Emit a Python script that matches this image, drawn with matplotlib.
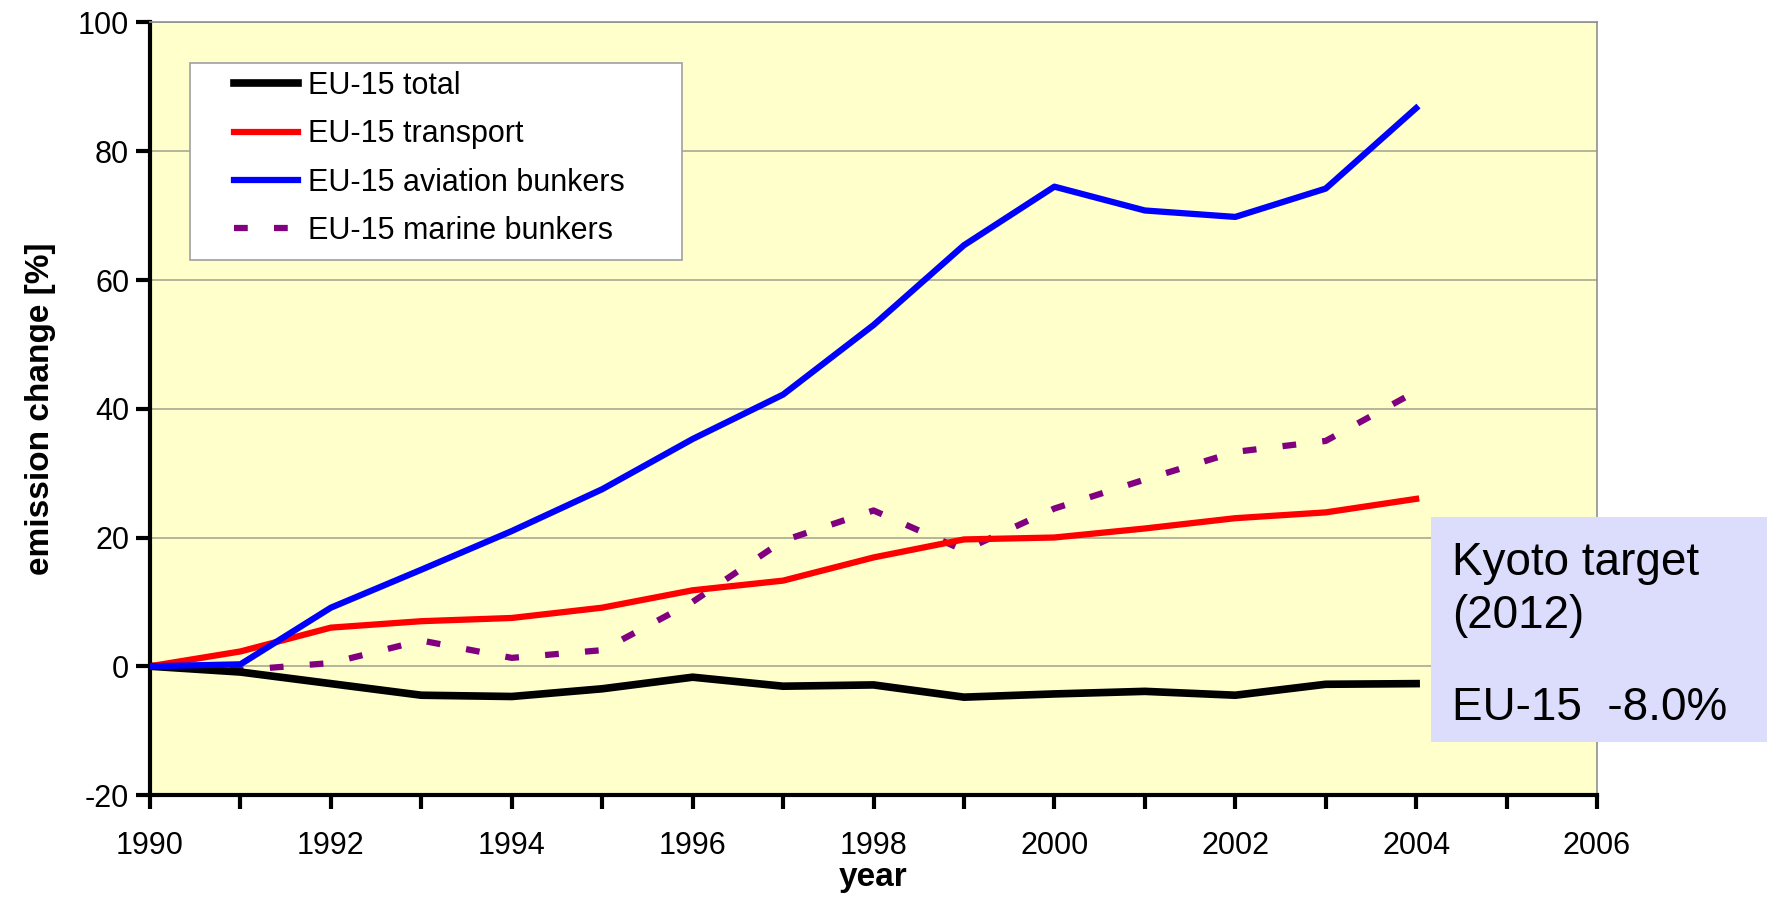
import matplotlib

matplotlib.use("Agg")
import matplotlib.pyplot as plt
from matplotlib.patches import Rectangle

plt.rcParams["font.family"] = ["Liberation Sans", "DejaVu Sans"]
plt.rcParams["axes.unicode_minus"] = False

# 数据：相对 1990 年的排放变化 (%)
years = [1990, 1991, 1992, 1993, 1994, 1995, 1996, 1997, 1998, 1999, 2000, 2001, 2002, 2003, 2004]
total = [0, -0.9, -2.7, -4.5, -4.7, -3.5, -1.7, -3.1, -2.9, -4.8, -4.3, -3.9, -4.5, -2.8, -2.7]
transport = [0, 2.3, 6.0, 7.0, 7.5, 9.1, 11.8, 13.3, 16.9, 19.7, 20.0, 21.4, 23.0, 23.9, 26.0]
aviation = [0, 0.3, 9.1, 15.0, 21.0, 27.5, 35.3, 42.2, 53.0, 65.4, 74.5, 70.8, 69.8, 74.2, 86.7]
marine = [0, -0.6, 0.5, 4.0, 1.3, 2.5, 10.0, 19.5, 24.2, 18.0, 24.5, 29.0, 33.3, 35.0, 42.7]

labels = ["EU-15 total", "EU-15 transport", "EU-15 aviation bunkers", "EU-15 marine bunkers"]
y_ticks = [-20, 0, 20, 40, 60, 80, 100]
x_ticks = [1990, 1992, 1994, 1996, 1998, 2000, 2002, 2004, 2006]

W, H = 1767, 913
fig = plt.figure(figsize=(W / 100, H / 100), dpi=100)
fig.patch.set_facecolor("white")

# 轴区域按像素位置设置
left, right, top, bottom = 150, 1597, 22.5, 795
ax = fig.add_axes([left / W, 1 - bottom / H, (right - left) / W, (bottom - top) / H])
ax.set_facecolor("#FFFFCC")

ax.plot(years, total, color="black", lw=5.5, label=labels[0], zorder=4)
ax.plot(years, transport, color="#FF0000", lw=4.5, label=labels[1], zorder=4)
ax.plot(years, aviation, color="#0000FF", lw=4.5, label=labels[2], zorder=4)
ax.plot(years, marine, color="#800080", lw=4.5, dashes=(2.2, 4.2), label=labels[3], zorder=3)

ax.set_xlim(1990, 2006)
ax.set_ylim(-20, 100)
ax.set_yticks(y_ticks)
ax.set_xticks(x_ticks)
ax.set_xticks(range(1990, 2007), minor=True)
ax.grid(axis="y", color="#A8A890", lw=1.2, zorder=1)

for side in ("left", "bottom"):
    ax.spines[side].set_linewidth(3)
    ax.spines[side].set_color("black")
for side in ("top", "right"):
    ax.spines[side].set_linewidth(1.2)
    ax.spines[side].set_color("#909090")

ax.tick_params(axis="y", which="major", direction="out", length=10, width=3, labelsize=22, pad=5)
ax.tick_params(axis="x", which="both", direction="out", length=10, width=3)
ax.tick_params(axis="x", which="major", labelsize=22, pad=16)

ax.set_xlabel("year", fontsize=24, fontweight="bold")
ax.set_ylabel("emission change [%]", fontsize=24, fontweight="bold")
ax.xaxis.set_label_coords(0.5, -0.087)
ax.yaxis.set_label_coords(-0.065, 0.5)

# 图例框单独绘制，图例本身不带边框
ax.add_patch(
    Rectangle((190 / W, 1 - 260 / H), 492 / W, 197 / H, transform=fig.transFigure,
              facecolor="white", edgecolor="#A0A0A0", lw=1.2, zorder=5)
)
leg = ax.legend(
    loc="upper left",
    bbox_to_anchor=(234 / W, 1 - 71 / H),
    bbox_transform=fig.transFigure,
    frameon=False,
    fontsize=22,
    handlelength=2.1,
    handletextpad=0.33,
    labelspacing=0.6,
    borderpad=0,
    borderaxespad=0,
)
leg.set_zorder(6)

# Kyoto 目标说明框
fig.patches.append(
    Rectangle((1431 / W, 1 - 742 / H), (W - 1431) / W, 225 / H, transform=fig.transFigure,
              facecolor="#DCDCFC", edgecolor="none", zorder=7)
)
fig.text(1452 / W, 1 - 575 / H, "Kyoto target", fontsize=33, va="baseline", zorder=8)
fig.text(1452 / W, 1 - 628 / H, "(2012)", fontsize=33, va="baseline", zorder=8)
fig.text(1452 / W, 1 - 720 / H, "EU-15  -8.0%", fontsize=33, va="baseline", zorder=8)

fig.savefig("out.png", dpi=100)
